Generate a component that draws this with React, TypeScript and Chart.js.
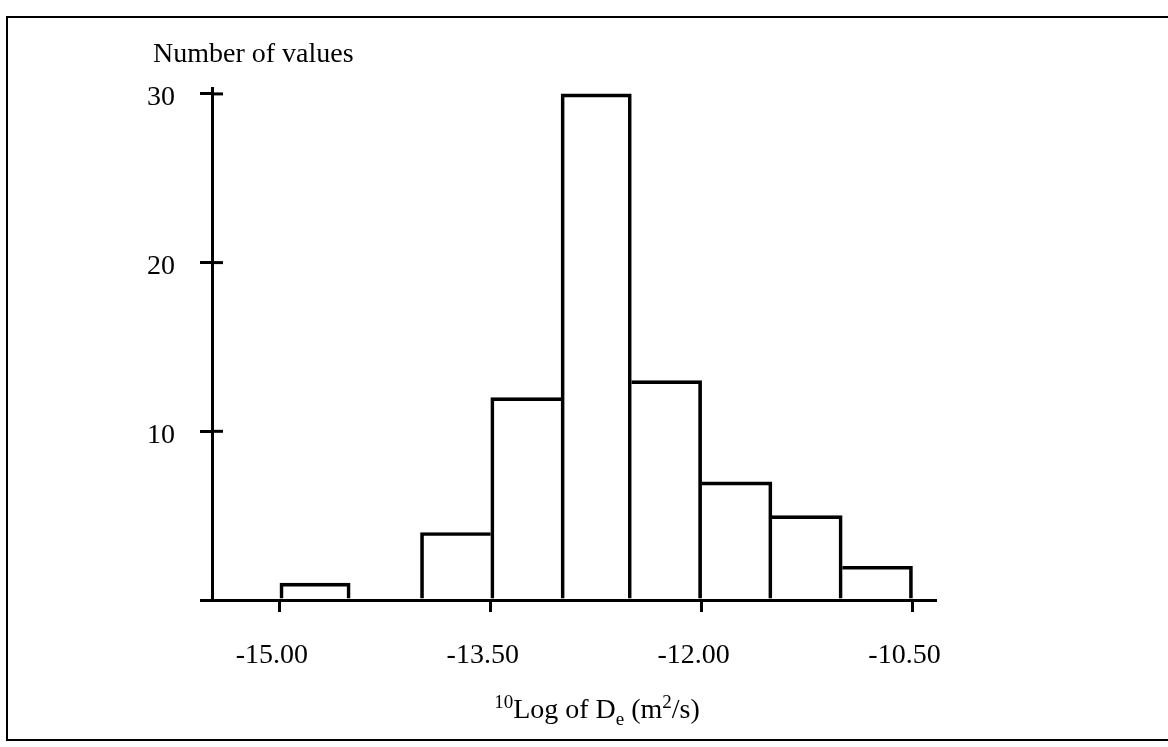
import React, { useEffect, useRef } from "react";
import { Chart, registerables } from "chart.js";

Chart.register(...registerables);

// ---- data ----
const binCenters = [-14.75, -14.25, -13.75, -13.25, -12.75, -12.25, -11.75, -11.25, -10.75];
const counts = [1, 0, 4, 12, 30, 13, 7, 5, 2];
const xTickValues = [-15, -13.5, -12, -10.5];
const yTickValues = [0, 10, 20, 30];
const yAxisTitle = "Number of values";
const xTitleParts: { text: string; kind: "sup" | "sub" | "normal" }[] = [
  { text: "10", kind: "sup" },
  { text: "Log of D", kind: "normal" },
  { text: "e", kind: "sub" },
  { text: " (m", kind: "normal" },
  { text: "2", kind: "sup" },
  { text: "/s)", kind: "normal" },
];

const FONT = '"Liberation Serif", "Times New Roman", serif';
const LW = 3;

function edgeWidths(i: number) {
  const h = counts[i];
  if (h === 0) return { top: 0, left: 0, right: 0, bottom: 0 };
  const prev = i > 0 ? counts[i - 1] : 0;
  const next = i < counts.length - 1 ? counts[i + 1] : 0;
  return {
    top: LW,
    left: prev <= h ? LW : 0,
    right: next < h ? LW : 0,
    bottom: 0,
  };
}

const overlayPlugin = {
  id: "overlay",
  beforeDraw(chart: any) {
    const ctx = chart.ctx;
    ctx.save();
    ctx.fillStyle = "#fff";
    ctx.fillRect(0, 0, chart.width, chart.height);
    ctx.strokeStyle = "#000";
    ctx.lineWidth = 2;
    ctx.beginPath();
    ctx.moveTo(chart.width + 5, 17);
    ctx.lineTo(7, 17);
    ctx.lineTo(7, 740);
    ctx.lineTo(chart.width + 5, 740);
    ctx.stroke();
    ctx.restore();
  },
  afterDraw(chart: any) {
    const ctx = chart.ctx;
    const area = chart.chartArea;
    const ys = chart.scales.y;
    ctx.save();
    ctx.strokeStyle = "#000";
    ctx.lineWidth = LW;
    yTickValues
      .filter((v) => v > 0)
      .forEach((v) => {
        const py = ys.getPixelForValue(v);
        ctx.beginPath();
        ctx.moveTo(area.left, py);
        ctx.lineTo(area.left + 11, py);
        ctx.stroke();
      });
    ctx.fillStyle = "#000";
    ctx.textAlign = "left";
    ctx.textBaseline = "alphabetic";
    ctx.font = `28px ${FONT}`;
    ctx.fillText(yAxisTitle, 153, 62);

    // x axis title with super/subscripts
    const big = `28px ${FONT}`;
    const small = `19px ${FONT}`;
    let total = 0;
    const widths = xTitleParts.map((p) => {
      ctx.font = p.kind === "normal" ? big : small;
      const w = ctx.measureText(p.text).width;
      total += w;
      return w;
    });
    const centerX = 597;
    const baseY = 718;
    let x = centerX - total / 2;
    xTitleParts.forEach((p, i) => {
      ctx.font = p.kind === "normal" ? big : small;
      const dy = p.kind === "sup" ? -10 : p.kind === "sub" ? 7 : 0;
      ctx.fillText(p.text, x, baseY + dy);
      x += widths[i];
    });
    ctx.restore();
  },
};

export default function App() {
  const ref = useRef<HTMLCanvasElement | null>(null);
  useEffect(() => {
    if (!ref.current) return;
    const chart = new Chart(ref.current, {
      type: "bar",
      data: {
        datasets: [
          {
            data: binCenters.map((c, i) => ({ x: c, y: counts[i] })),
            backgroundColor: "rgba(255,255,255,0)",
            borderColor: "#000",
            borderWidth: (ctx: any) => edgeWidths(ctx.dataIndex),
            borderSkipped: false,
            barPercentage: 1,
            categoryPercentage: 1,
          } as any,
        ],
      },
      options: {
        animation: false,
        responsive: false,
        devicePixelRatio: 1,
        layout: { padding: { left: 0, top: 88, right: 233, bottom: 0 } },
        plugins: { legend: { display: false }, tooltip: { enabled: false } },
        scales: {
          x: {
            type: "linear",
            offset: false,
            min: -15.483,
            max: -10.34,
            afterBuildTicks: (s: any) => {
              s.ticks = xTickValues.map((v) => ({ value: v }));
            },
            afterFit: (s: any) => {
              s.height = 147;
            },
            ticks: {
              color: "#000",
              font: { family: FONT, size: 28 },
              padding: 27,
              labelOffset: -8,
              maxRotation: 0,
              autoSkip: false,
              callback: (v: any) => Number(v).toFixed(2),
            },
            grid: {
              offset: false,
              drawOnChartArea: false,
              drawTicks: true,
              tickLength: 12,
              lineWidth: LW,
              color: "#000",
            },
            border: { display: true, width: LW, color: "#000" },
          },
          y: {
            type: "linear",
            min: 0,
            max: 30.35,
            afterBuildTicks: (s: any) => {
              s.ticks = yTickValues.map((v) => ({ value: v }));
            },
            afterFit: (s: any) => {
              s.width = 212;
            },
            ticks: {
              color: "#000",
              font: { family: FONT, size: 28 },
              padding: 25,
              labelOffset: 4,
              autoSkip: false,
              callback: (v: any) => (Number(v) === 0 ? "" : String(v)),
            },
            grid: {
              drawOnChartArea: false,
              drawTicks: true,
              tickLength: 12,
              lineWidth: LW,
              color: "#000",
            },
            border: { display: true, width: LW, color: "#000" },
          },
        },
      },
      plugins: [overlayPlugin],
    });
    return () => chart.destroy();
  }, []);
  return (
    <div style={{ position: "absolute", left: 0, top: 0, width: 1168, height: 747 }}>
      <canvas ref={ref} width={1168} height={747} style={{ display: "block" }} />
    </div>
  );
}
